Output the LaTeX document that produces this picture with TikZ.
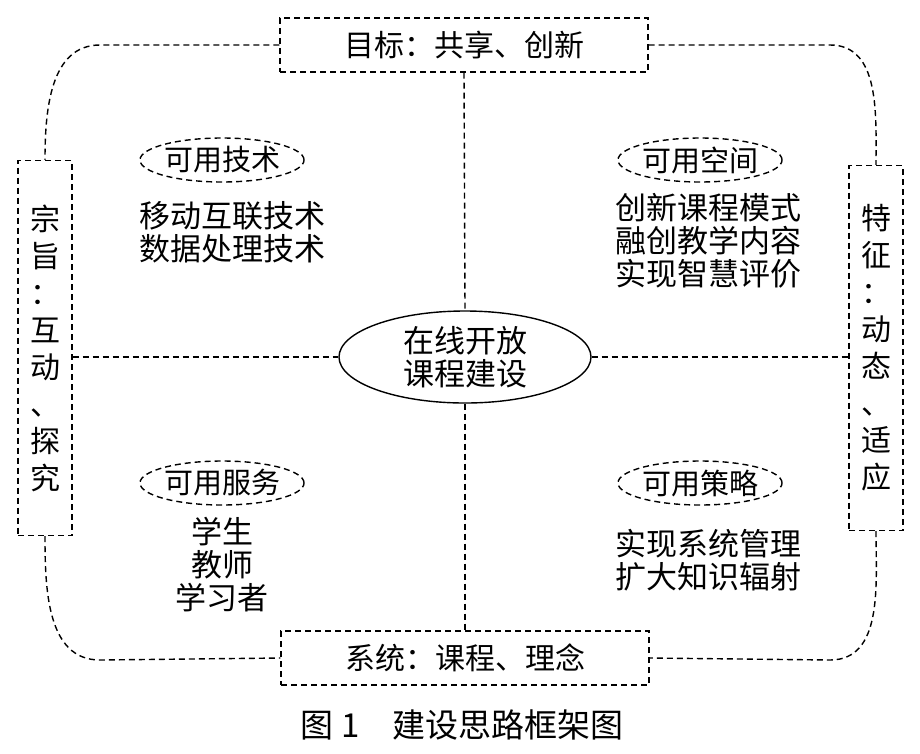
\documentclass[tikz,border=0pt]{standalone}
\usepackage{fontspec}
\setmainfont{Noto Sans CJK SC}
\usetikzlibrary{shapes.geometric}
\begin{document}
\begin{tikzpicture}[x=1pt,y=-1pt,
  dl/.style={dashed,line width=1.4pt,dash pattern=on 6pt off 4pt},
  bx/.style={draw,dl,inner sep=0pt},
  sel/.style={draw,ellipse,dl,inner sep=0pt,minimum width=158pt,minimum height=44pt,font=\fontsize{29}{32}\selectfont},
  tx/.style={align=center,font=\fontsize{31}{33}\selectfont}]
\useasboundingbox (0,0) rectangle (920,753);
\node[bx,minimum width=368pt,minimum height=54pt,font=\fontsize{30}{32}\selectfont] (top) at (464,45) {目标：共享、创新};
\node[bx,minimum width=368pt,minimum height=54pt,font=\fontsize{30}{32}\selectfont] (bot) at (465,658) {系统：课程、理念};
\node[bx,minimum width=54pt,minimum height=375pt,align=center,font=\fontsize{30}{37}\selectfont,text width=30pt] (lft) at (45,348) {宗\\旨\\：\\互\\动\\、\\探\\究};
\node[bx,minimum width=54pt,minimum height=365pt,align=center,font=\fontsize{30}{37}\selectfont,text width=30pt] (rgt) at (876,348) {特\\征\\：\\动\\态\\、\\适\\应};
\node[draw,ellipse,line width=1.4pt,minimum width=252pt,minimum height=92pt,inner sep=0pt,tx] (c) at (465,357) {在线开放\\课程建设};
\draw[dl] (top.south) -- (c.north);
\draw[dl] (c.south) -- (bot.north);
\draw[dl] (lft.east|-c) -- (c.west);
\draw[dl] (c.east) -- (rgt.west|-c);
\draw[dl] (top.west) -- (100,45) to[out=180,in=90] (lft.north);
\draw[dl] (top.east) -- (830,45) to[out=0,in=90] (rgt.north);
\draw[dl] (lft.south) to[out=-90,in=180] (100,660) -- (bot.west);
\draw[dl] (rgt.south) to[out=-90,in=0] (830,660) -- (bot.east);
\node[sel] (e1) at (222,160) {可用技术};
\node[sel] (e2) at (700,160) {可用空间};
\node[sel] (e3) at (222,483) {可用服务};
\node[sel] (e4) at (700,483) {可用策略};
\node[tx,anchor=north] (t1) at (232,198) {移动互联技术\\数据处理技术};
\node[tx,anchor=north] (t2) at (708,190) {创新课程模式\\融创教学内容\\实现智慧评价};
\node[tx,anchor=north] (t3) at (222,514) {学生\\教师\\学习者};
\node[tx,anchor=north] (t4) at (708,526) {实现系统管理\\扩大知识辐射};
\node[font=\fontsize{33}{36}\selectfont] (cap) at (462,725) {图 1\quad 建设思路框架图};
\end{tikzpicture}
\end{document}
